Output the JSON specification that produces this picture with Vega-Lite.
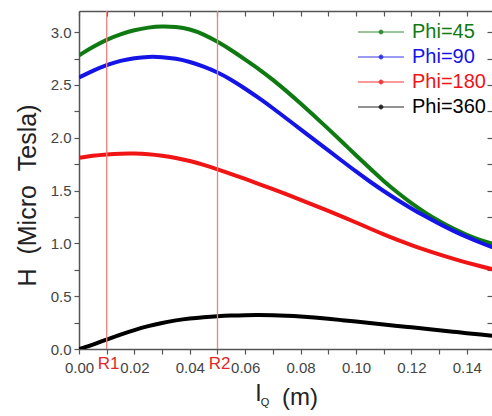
{
  "$schema": "https://vega.github.io/schema/vega-lite/v6.json",
  "width": 413,
  "height": 338,
  "autosize": "none",
  "padding": {"left": 79, "top": 11, "right": 0, "bottom": 67},
  "config": {
    "view": {"stroke": null},
    "font": "Liberation Sans",
    "axis": {
      "domainColor": "#555555",
      "domainWidth": 1.5,
      "tickColor": "#555555",
      "tickWidth": 1.2,
      "labelColor": "#444444",
      "labelFont": "Liberation Sans",
      "labelFontSize": 15,
      "titleFont": "Liberation Sans",
      "titleFontWeight": "normal",
      "titleColor": "#222222",
      "grid": false,
      "labelOverlap": false,
      "labelFlush": false
    }
  },
  "resolve": {"axis": {"x": "independent", "y": "independent"}},
  "layer": [
    {
      "data": {"values": [
        {"v":0,"h":2.78,"s":"Phi=45"},{"v":0.005,"h":2.86,"s":"Phi=45"},{"v":0.01,"h":2.93,"s":"Phi=45"},{"v":0.015,"h":2.98,"s":"Phi=45"},{"v":0.02,"h":3.02,"s":"Phi=45"},{"v":0.025,"h":3.045,"s":"Phi=45"},{"v":0.03,"h":3.056,"s":"Phi=45"},{"v":0.035,"h":3.05,"s":"Phi=45"},{"v":0.04,"h":3.03,"s":"Phi=45"},{"v":0.045,"h":2.98,"s":"Phi=45"},{"v":0.05,"h":2.91,"s":"Phi=45"},{"v":0.055,"h":2.83,"s":"Phi=45"},{"v":0.06,"h":2.74,"s":"Phi=45"},{"v":0.065,"h":2.65,"s":"Phi=45"},{"v":0.07,"h":2.55,"s":"Phi=45"},{"v":0.075,"h":2.44,"s":"Phi=45"},{"v":0.08,"h":2.325,"s":"Phi=45"},{"v":0.085,"h":2.205,"s":"Phi=45"},{"v":0.09,"h":2.085,"s":"Phi=45"},{"v":0.095,"h":1.96,"s":"Phi=45"},{"v":0.1,"h":1.835,"s":"Phi=45"},{"v":0.105,"h":1.71,"s":"Phi=45"},{"v":0.11,"h":1.59,"s":"Phi=45"},{"v":0.115,"h":1.48,"s":"Phi=45"},{"v":0.12,"h":1.38,"s":"Phi=45"},{"v":0.125,"h":1.29,"s":"Phi=45"},{"v":0.13,"h":1.21,"s":"Phi=45"},{"v":0.135,"h":1.14,"s":"Phi=45"},{"v":0.14,"h":1.08,"s":"Phi=45"},{"v":0.145,"h":1.03,"s":"Phi=45"},{"v":0.15,"h":0.99,"s":"Phi=45"},
        {"v":0,"h":2.57,"s":"Phi=90"},{"v":0.005,"h":2.635,"s":"Phi=90"},{"v":0.01,"h":2.69,"s":"Phi=90"},{"v":0.015,"h":2.73,"s":"Phi=90"},{"v":0.02,"h":2.755,"s":"Phi=90"},{"v":0.025,"h":2.768,"s":"Phi=90"},{"v":0.03,"h":2.765,"s":"Phi=90"},{"v":0.035,"h":2.75,"s":"Phi=90"},{"v":0.04,"h":2.72,"s":"Phi=90"},{"v":0.045,"h":2.675,"s":"Phi=90"},{"v":0.05,"h":2.62,"s":"Phi=90"},{"v":0.055,"h":2.55,"s":"Phi=90"},{"v":0.06,"h":2.465,"s":"Phi=90"},{"v":0.065,"h":2.375,"s":"Phi=90"},{"v":0.07,"h":2.28,"s":"Phi=90"},{"v":0.075,"h":2.18,"s":"Phi=90"},{"v":0.08,"h":2.08,"s":"Phi=90"},{"v":0.085,"h":1.98,"s":"Phi=90"},{"v":0.09,"h":1.88,"s":"Phi=90"},{"v":0.095,"h":1.78,"s":"Phi=90"},{"v":0.1,"h":1.68,"s":"Phi=90"},{"v":0.105,"h":1.585,"s":"Phi=90"},{"v":0.11,"h":1.495,"s":"Phi=90"},{"v":0.115,"h":1.41,"s":"Phi=90"},{"v":0.12,"h":1.33,"s":"Phi=90"},{"v":0.125,"h":1.255,"s":"Phi=90"},{"v":0.13,"h":1.185,"s":"Phi=90"},{"v":0.135,"h":1.12,"s":"Phi=90"},{"v":0.14,"h":1.06,"s":"Phi=90"},{"v":0.145,"h":1.005,"s":"Phi=90"},{"v":0.15,"h":0.955,"s":"Phi=90"},
        {"v":0,"h":1.81,"s":"Phi=180"},{"v":0.005,"h":1.83,"s":"Phi=180"},{"v":0.01,"h":1.842,"s":"Phi=180"},{"v":0.015,"h":1.85,"s":"Phi=180"},{"v":0.02,"h":1.851,"s":"Phi=180"},{"v":0.025,"h":1.845,"s":"Phi=180"},{"v":0.03,"h":1.831,"s":"Phi=180"},{"v":0.035,"h":1.81,"s":"Phi=180"},{"v":0.04,"h":1.781,"s":"Phi=180"},{"v":0.045,"h":1.744,"s":"Phi=180"},{"v":0.05,"h":1.702,"s":"Phi=180"},{"v":0.055,"h":1.657,"s":"Phi=180"},{"v":0.06,"h":1.61,"s":"Phi=180"},{"v":0.065,"h":1.562,"s":"Phi=180"},{"v":0.07,"h":1.513,"s":"Phi=180"},{"v":0.075,"h":1.463,"s":"Phi=180"},{"v":0.08,"h":1.412,"s":"Phi=180"},{"v":0.085,"h":1.36,"s":"Phi=180"},{"v":0.09,"h":1.307,"s":"Phi=180"},{"v":0.095,"h":1.253,"s":"Phi=180"},{"v":0.1,"h":1.198,"s":"Phi=180"},{"v":0.105,"h":1.141,"s":"Phi=180"},{"v":0.11,"h":1.085,"s":"Phi=180"},{"v":0.115,"h":1.033,"s":"Phi=180"},{"v":0.12,"h":0.984,"s":"Phi=180"},{"v":0.125,"h":0.938,"s":"Phi=180"},{"v":0.13,"h":0.895,"s":"Phi=180"},{"v":0.135,"h":0.855,"s":"Phi=180"},{"v":0.14,"h":0.818,"s":"Phi=180"},{"v":0.145,"h":0.783,"s":"Phi=180"},{"v":0.15,"h":0.75,"s":"Phi=180"},
        {"v":0,"h":0,"s":"Phi=360"},{"v":0.005,"h":0.04,"s":"Phi=360"},{"v":0.01,"h":0.09,"s":"Phi=360"},{"v":0.015,"h":0.138,"s":"Phi=360"},{"v":0.02,"h":0.18,"s":"Phi=360"},{"v":0.025,"h":0.217,"s":"Phi=360"},{"v":0.03,"h":0.248,"s":"Phi=360"},{"v":0.035,"h":0.272,"s":"Phi=360"},{"v":0.04,"h":0.29,"s":"Phi=360"},{"v":0.045,"h":0.302,"s":"Phi=360"},{"v":0.05,"h":0.311,"s":"Phi=360"},{"v":0.055,"h":0.317,"s":"Phi=360"},{"v":0.06,"h":0.321,"s":"Phi=360"},{"v":0.065,"h":0.322,"s":"Phi=360"},{"v":0.07,"h":0.32,"s":"Phi=360"},{"v":0.075,"h":0.315,"s":"Phi=360"},{"v":0.08,"h":0.308,"s":"Phi=360"},{"v":0.085,"h":0.298,"s":"Phi=360"},{"v":0.09,"h":0.286,"s":"Phi=360"},{"v":0.095,"h":0.273,"s":"Phi=360"},{"v":0.1,"h":0.26,"s":"Phi=360"},{"v":0.105,"h":0.246,"s":"Phi=360"},{"v":0.11,"h":0.232,"s":"Phi=360"},{"v":0.115,"h":0.219,"s":"Phi=360"},{"v":0.12,"h":0.205,"s":"Phi=360"},{"v":0.125,"h":0.191,"s":"Phi=360"},{"v":0.13,"h":0.178,"s":"Phi=360"},{"v":0.135,"h":0.164,"s":"Phi=360"},{"v":0.14,"h":0.15,"s":"Phi=360"},{"v":0.145,"h":0.137,"s":"Phi=360"},{"v":0.15,"h":0.124,"s":"Phi=360"}
      ]},
      "mark": {"type": "line", "strokeWidth": 4, "clip": true, "interpolate": "basis"},
      "encoding": {
        "x": {
          "field": "v", "type": "quantitative",
          "scale": {"domain": [0, 0.1491], "nice": false, "zero": false},
          "axis": {
            "orient": "bottom",
            "values": [0,0.01,0.02,0.03,0.04,0.05,0.06,0.07,0.08,0.09,0.1,0.11,0.12,0.13,0.14],
            "labelExpr": "round(datum.value*100) % 2 == 0 ? format(datum.value, '.2f') : ''",
            "tickSize": 5,
            "labelPadding": 6,
            "title": "l",
            "titleFontSize": 24,
            "titlePadding": 6,
            "titleX": 179
          }
        },
        "y": {
          "field": "h", "type": "quantitative",
          "scale": {"domain": [0, 3.2], "nice": false},
          "axis": {
            "orient": "left",
            "values": [0,0.25,0.5,0.75,1,1.25,1.5,1.75,2,2.25,2.5,2.75,3],
            "labelExpr": "round(datum.value*4) % 2 == 0 ? format(datum.value, '.1f') : ''",
            "tickSize": 5,
            "labelPadding": 3,
            "title": "H\u00a0\u00a0(Micro\u00a0\u00a0Tesla)",
            "titleFontSize": 25,
            "titlePadding": 10,
            "titleY": 184
          }
        },
        "color": {
          "field": "s", "type": "nominal",
          "scale": {"domain": ["Phi=45","Phi=90","Phi=180","Phi=360"], "range": ["#0f7a12","#1414e6","#f01414","#000000"]},
          "legend": {
            "orient": "none",
            "legendX": 290,
            "legendY": 9,
            "title": null,
            "padding": 0,
            "symbolType": "M-2,0H2M0.17,0A0.17,0.17,0,1,1,-0.17,0A0.17,0.17,0,1,1,0.17,0",
            "symbolSize": 529,
            "symbolStrokeWidth": 1,
            "symbolOpacity": 0.85,
            "labelFontSize": 20,
            "labelFont": "Liberation Sans",
            "labelOffset": 19,
            "rowPadding": 3,
            "encode": {
              "labels": {"update": {"fill": {"scale": "color", "field": "value"}}},
              "symbols": {"update": {"fill": {"scale": "color", "field": "value"}}}
            }
          }
        }
      }
    },
    {
      "data": {"values": [{"x": 0.01, "label": "R1"}, {"x": 0.05, "label": "R2"}]},
      "mark": {"type": "rule", "color": "#f07f7f", "strokeWidth": 1.3},
      "encoding": {
        "x": {
          "field": "x", "type": "quantitative",
          "axis": {
            "orient": "top",
            "values": [0,0.01,0.02,0.03,0.04,0.05,0.06,0.07,0.08,0.09,0.1,0.11,0.12,0.13,0.14],
            "labels": false,
            "tickSize": -5,
            "title": null
          }
        }
      }
    },
    {
      "data": {"values": [{"x": 0.01, "label": "R1"}, {"x": 0.05, "label": "R2"}]},
      "mark": {"type": "text", "color": "#e02828", "fontSize": 17, "baseline": "middle", "align": "center", "dy": 15, "dx": 2, "clip": false},
      "encoding": {
        "x": {"field": "x", "type": "quantitative", "axis": null},
        "y": {
          "datum": 0, "type": "quantitative",
          "axis": {
            "orient": "right",
            "values": [0,0.25,0.5,0.75,1,1.25,1.5,1.75,2,2.25,2.5,2.75,3],
            "labels": false,
            "domain": false,
            "tickSize": -5,
            "title": null
          }
        },
        "text": {"field": "label"}
      }
    },
    {
      "data": {"values": [{"x": 0.0672, "t": "Q", "fs": "sub"}, {"x": 0.0798, "t": "(m)", "fs": "main"}]},
      "mark": {"type": "text", "color": "#222222", "baseline": "middle", "align": "center", "clip": false},
      "encoding": {
        "x": {"field": "x", "type": "quantitative", "axis": null},
        "y": {"datum": 0, "type": "quantitative", "axis": null},
        "text": {"field": "t"},
        "size": {"field": "fs", "type": "nominal", "scale": {"domain": ["sub", "main"], "range": [11, 24]}, "legend": null},
        "yOffset": {"field": "fs", "type": "nominal", "scale": {"domain": ["sub", "main"], "range": [57, 46]}}
      }
    }
  ]
}
